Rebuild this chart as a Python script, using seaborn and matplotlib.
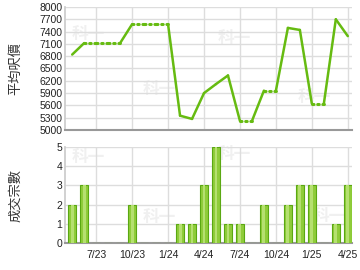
import numpy as np
import pandas as pd
import matplotlib
matplotlib.use("Agg")
import matplotlib.pyplot as plt
import seaborn as sns

months = ['5/23', '6/23', '7/23', '8/23', '9/23', '10/23', '11/23', '12/23',
          '1/24', '2/24', '3/24', '4/24', '5/24', '6/24', '7/24', '8/24',
          '9/24', '10/24', '11/24', '12/24', '1/25', '2/25', '3/25', '4/25']
price = [6840, 7120, np.nan, np.nan, np.nan, 7580, np.nan, np.nan,
         np.nan, 5350, 5270, 5900, 6120, 6330, 5220, np.nan,
         5960, np.nan, 7490, 7440, 5640, np.nan, 7700, 7290]
counts = [2, 3, 0, 0, 0, 2, 0, 0, 0, 1, 1, 3, 5, 1, 1, 0, 2, 0, 2, 3, 3, 0, 1, 3]
xtick_labels = ['7/23', '10/23', '1/24', '4/24', '7/24', '10/24', '1/25', '4/25']
price_ticks = [5000, 5300, 5600, 5900, 6200, 6500, 6800, 7100, 7400, 7700, 8000]
count_ticks = [0, 1, 2, 3, 4, 5]

sns.set_theme(style="white")
plt.rcParams['font.family'] = ['Liberation Sans', 'Noto Sans CJK TC', 'DejaVu Sans']

W, H = 360, 270
fig = plt.figure(figsize=(3.6, 2.7), dpi=100)
x0, x1 = 65 / W, 352 / W
ax1 = fig.add_axes([x0, 1 - 130 / H, x1 - x0, 123 / H])
ax2 = fig.add_axes([x0, 1 - 243 / H, x1 - x0, 96 / H])

grid_c = '#dddddd'
line_c = '#66bb11'
idx = np.arange(len(months))
tick_pos = [months.index(m) for m in xtick_labels]

df = pd.DataFrame({'i': idx, 'month': months, 'price': price, 'count': counts})
df['filled'] = df['price'].ffill()

# watermark
for ax, pts in [(ax1, [(0.01, 0.78), (0.26, 0.33), (0.52, 0.75), (0.80, 0.27)]),
                (ax2, [(0.01, 0.90), (0.26, 0.27), (0.52, 0.93), (0.85, 0.28)])]:
    for (px, py) in pts:
        ax.text(px + 0.07, py, '科一', transform=ax.transAxes, color='#f0f0f0',
                fontsize=12, fontweight='bold', ha='center', va='center',
                family=['Noto Sans CJK TC'], zorder=0)

# price line segments
for i in range(1, len(df)):
    seg = pd.DataFrame({'x': [i - 1, i], 'y': [df['filled'][i - 1], df['filled'][i]]})
    dotted = np.isnan(df['price'][i])
    if dotted:
        sns.lineplot(data=seg, x='x', y='y', ax=ax1, color=line_c, lw=2.2,
                     linestyle=(0, (0.5, 1.2)), dash_capstyle='round', zorder=3)
    else:
        sns.lineplot(data=seg, x='x', y='y', ax=ax1, color=line_c, lw=1.8, zorder=3)

ax1.set_xlim(-0.6, 23.35)
ax1.set_ylim(5000, 8000)
ax1.set_yticks(price_ticks)
ax1.set_xticks(tick_pos)
ax1.set_xticklabels([])
ax1.set_xlabel('')
ax1.set_ylabel('平均呎價', family=['Noto Sans CJK TC'], fontsize=9.5, color='#333333')

# bars
sns.barplot(data=df, x='i', y='count', ax=ax2, color='#8fcc3a', width=0.7,
            edgecolor='#5aa812', linewidth=0.8, saturation=1, zorder=3, native_scale=True)
for p in ax2.patches:
    xx, w, h = p.get_x(), p.get_width(), p.get_height()
    if h > 0:
        ax2.bar(xx + w * 0.5, h, width=w * 0.35, color='#b5e070', zorder=4, linewidth=0)
ax2.set_xlim(-0.6, 23.35)
ax2.set_ylim(0, 5)
ax2.set_yticks(count_ticks)
ax2.set_xticks(tick_pos)
ax2.set_xticklabels(xtick_labels)
ax2.set_xlabel('')
ax2.set_ylabel('成交宗數', family=['Noto Sans CJK TC'], fontsize=9.5, color='#333333')

for ax in (ax1, ax2):
    ax.grid(True, color=grid_c, lw=1.0, zorder=0)
    ax.set_axisbelow(True)
    for s in ('top', 'right'):
        ax.spines[s].set_visible(False)
    ax.spines['left'].set_color('#cccccc')
    ax.spines['bottom'].set_color('#999999')
    ax.spines['bottom'].set_linewidth(1.5)
    ax.tick_params(axis='both', labelsize=7.5, colors='#222222', length=0, pad=2)
ax2.tick_params(axis='x', length=3, color='#999999', pad=2)
ax1.yaxis.set_label_coords(-0.15, 0.5)
ax2.yaxis.set_label_coords(-0.15, 0.5)

fig.savefig('out.png', dpi=100)
